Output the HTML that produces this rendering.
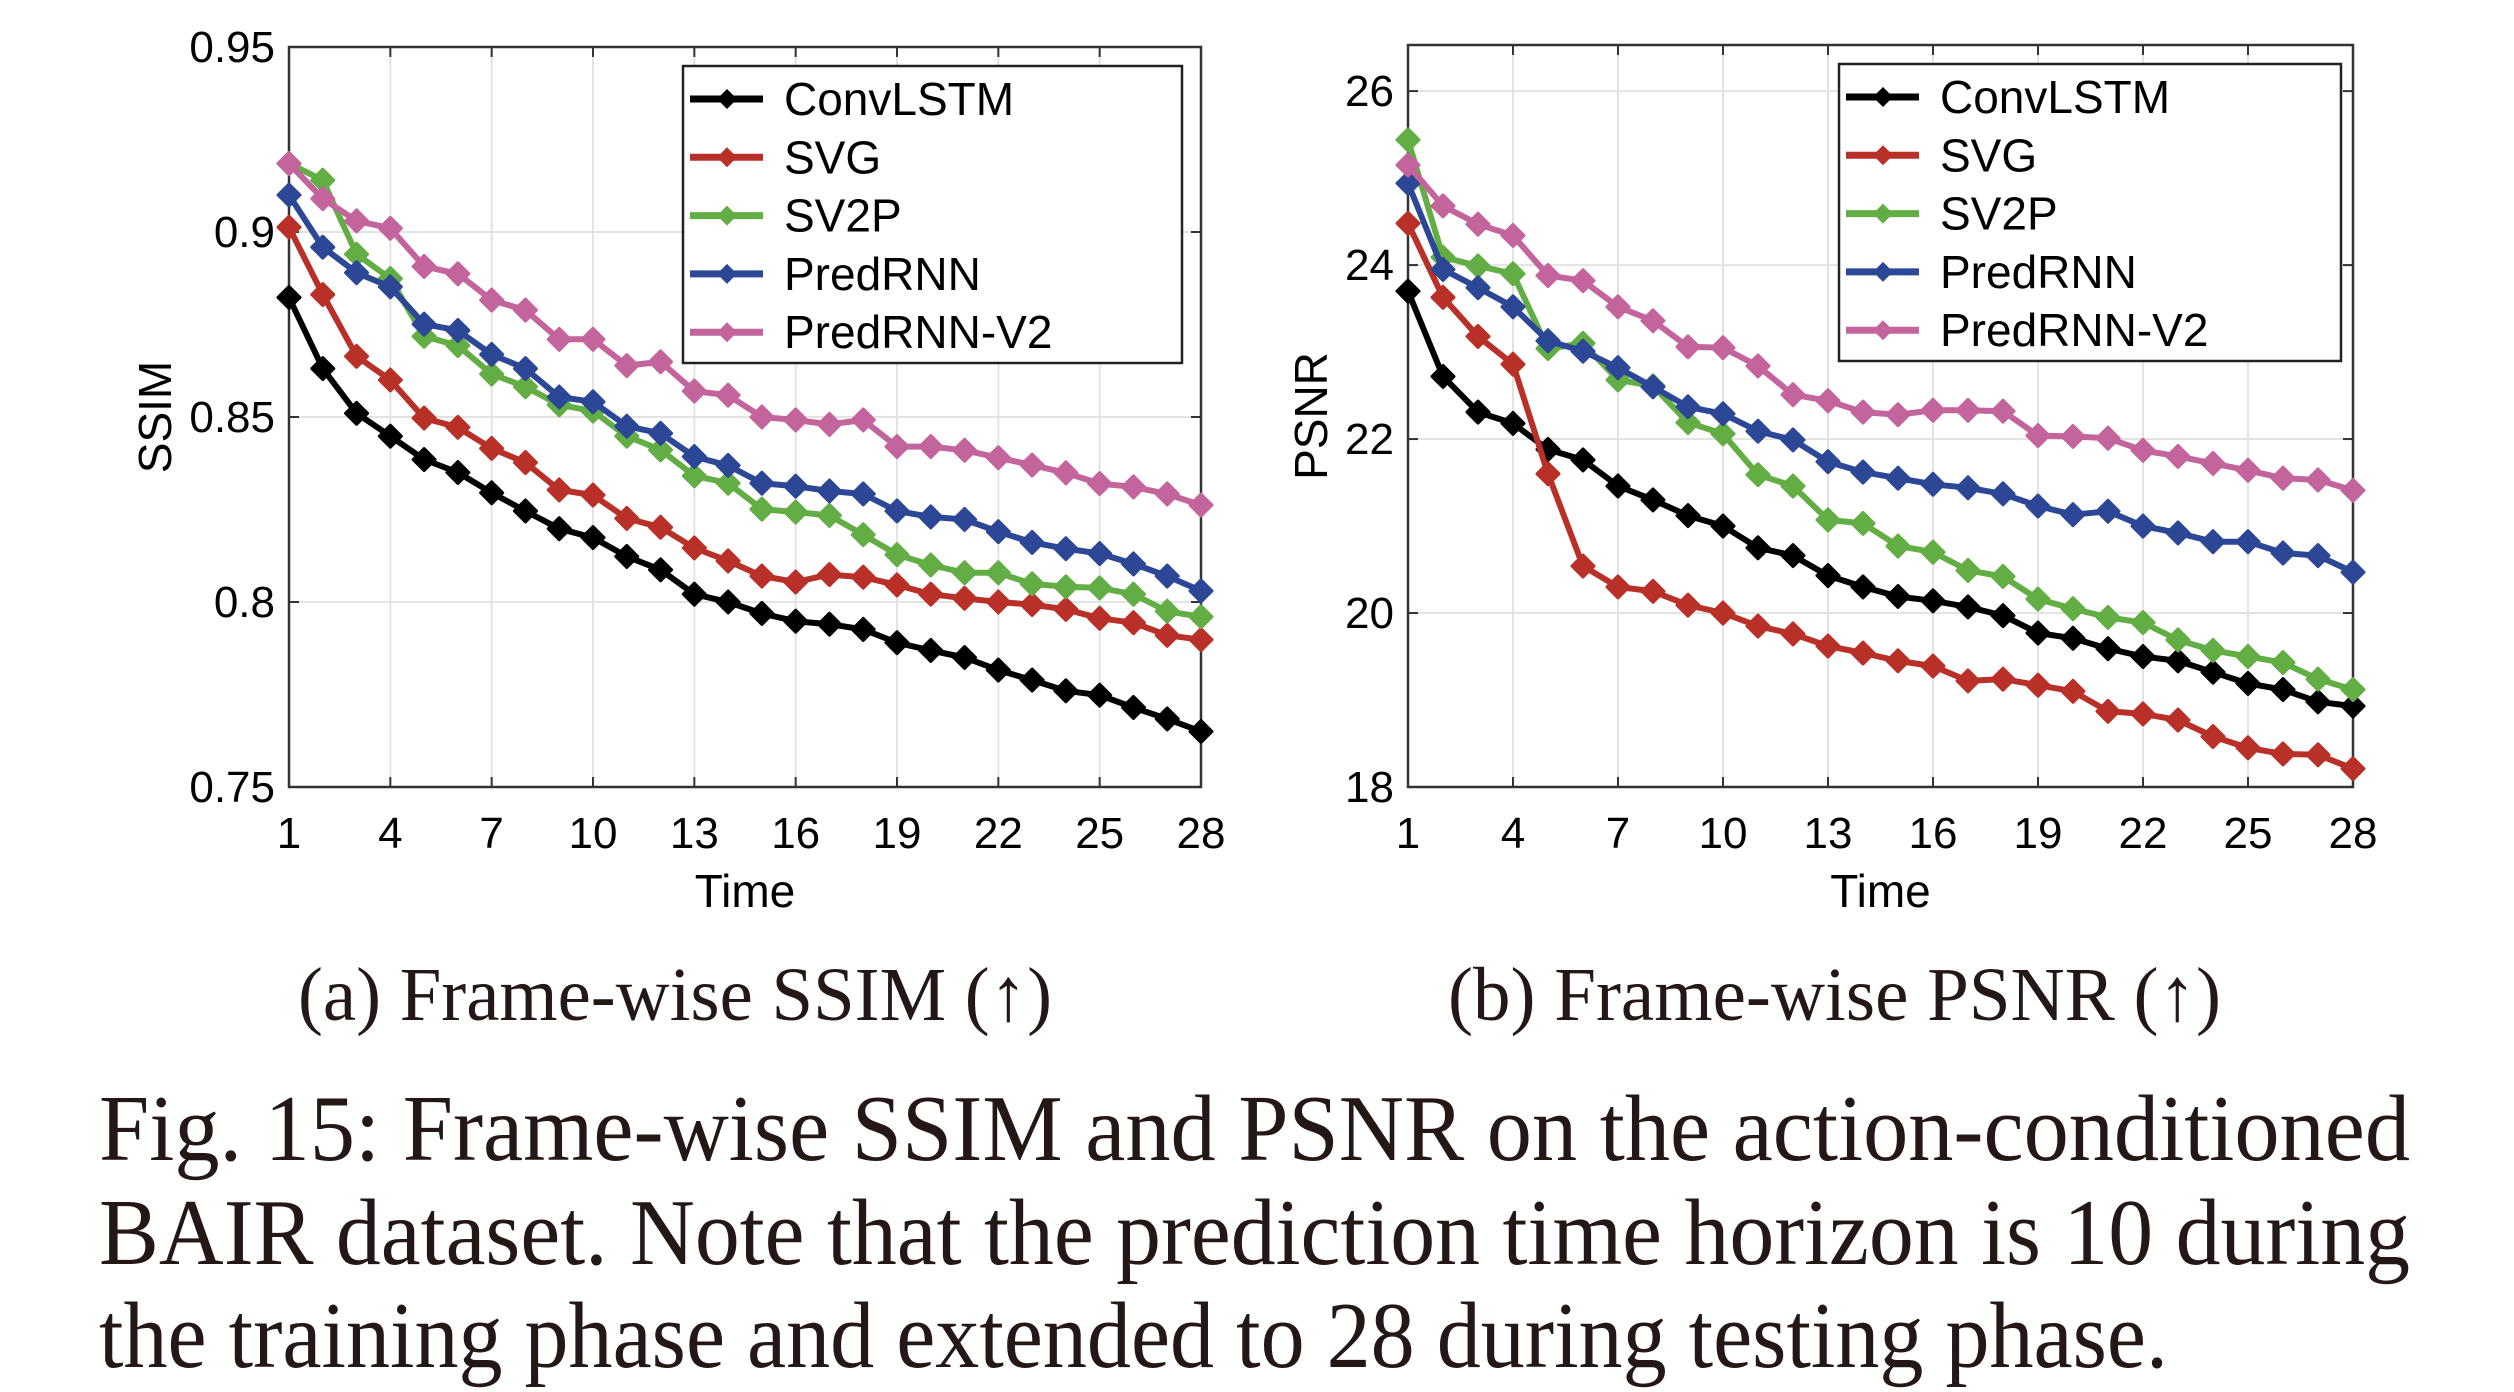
<!DOCTYPE html>
<html><head><meta charset="utf-8"><style>
html,body{margin:0;padding:0;background:#fff;}
svg{display:block;}
</style></head><body>
<svg id="fig" width="2514" height="1392" viewBox="0 0 2514 1392" xmlns="http://www.w3.org/2000/svg">
<g id="chartA"></g>
<g id="chartB"></g>
<text x="298" y="1020" textLength="754" lengthAdjust="spacingAndGlyphs" font-family="Liberation Serif, serif" font-size="76" fill="#231815">(a)  Frame-wise SSIM (↑)</text>
<text x="1448" y="1020" textLength="773" lengthAdjust="spacingAndGlyphs" font-family="Liberation Serif, serif" font-size="76" fill="#231815">(b)  Frame-wise PSNR (↑)</text>
<g font-family="Liberation Serif, serif" font-size="94" fill="#231815">
<text x="99" y="1160" textLength="2311" lengthAdjust="spacingAndGlyphs">Fig. 15: Frame-wise SSIM and PSNR on the action-conditioned</text>
<text x="99" y="1264" textLength="2311" lengthAdjust="spacingAndGlyphs">BAIR dataset. Note that the prediction time horizon is 10 during</text>
<text x="99" y="1367" textLength="2069" lengthAdjust="spacingAndGlyphs">the training phase and extended to 28 during testing phase.</text>
</g>
</svg>
<script>
const timeSteps = [1,2,3,4,5,6,7,8,9,10,11,12,13,14,15,16,17,18,19,20,21,22,23,24,25,26,27,28];
const xTickLabels = [1,4,7,10,13,16,19,22,25,28];
const seriesNames = ["ConvLSTM","SVG","SV2P","PredRNN","PredRNN-V2"];
const seriesColors = ["#000000","#b83028","#63ad45","#2b4795","#c4649d"];

const ssimConvLSTM = [0.8823,0.8631,0.851,0.8448,0.8385,0.835,0.8295,0.8246,0.8198,0.8174,0.8123,0.8087,0.8021,0.800,0.7969,0.7948,0.794,0.7926,0.789,0.7869,0.785,0.7816,0.7789,0.776,0.7748,0.7715,0.7684,0.765];
const ssimSVG = [0.9013,0.8831,0.8664,0.860,0.8497,0.8472,0.8415,0.8377,0.8303,0.8289,0.8226,0.8202,0.8146,0.8111,0.807,0.8054,0.8074,0.8067,0.8046,0.8021,0.801,0.800,0.7993,0.798,0.7956,0.7944,0.791,0.7898];
const ssimSV2P = [0.9185,0.914,0.894,0.8874,0.8718,0.8693,0.8616,0.8582,0.8533,0.8516,0.8448,0.8411,0.8341,0.8321,0.8251,0.8243,0.8234,0.8182,0.8128,0.810,0.8079,0.8079,0.8049,0.8041,0.8038,0.8021,0.7975,0.796];
const ssimPredRNN = [0.910,0.8959,0.889,0.8852,0.8751,0.8734,0.8669,0.8631,0.8554,0.8541,0.8475,0.8456,0.8393,0.8369,0.8321,0.8313,0.830,0.8292,0.8246,0.823,0.8223,0.819,0.8161,0.8144,0.8131,0.8103,0.807,0.803];
const ssimPredRNNV2 = [0.9185,0.909,0.903,0.901,0.8907,0.8887,0.8816,0.8789,0.871,0.871,0.8639,0.8649,0.857,0.8559,0.850,0.8492,0.848,0.8492,0.842,0.842,0.841,0.839,0.837,0.8349,0.832,0.8311,0.8292,0.8262];
const ssimTicks = [0.75,0.8,0.85,0.9,0.95];
const ssimTickLabels = ["0.75","0.8","0.85","0.9","0.95"];

const psnrConvLSTM = [23.70,22.72,22.31,22.18,21.88,21.76,21.46,21.30,21.12,21.0,20.75,20.66,20.43,20.30,20.19,20.14,20.07,19.97,19.77,19.71,19.59,19.50,19.45,19.32,19.19,19.12,18.98,18.93];
const psnrSVG = [24.48,23.63,23.18,22.86,21.60,20.54,20.30,20.25,20.09,20.0,19.85,19.76,19.62,19.54,19.45,19.39,19.22,19.24,19.17,19.10,18.87,18.84,18.77,18.58,18.45,18.38,18.37,18.21];
const psnrSV2P = [25.44,24.09,23.99,23.90,23.04,23.10,22.68,22.61,22.19,22.06,21.59,21.46,21.07,21.03,20.77,20.70,20.49,20.42,20.16,20.05,19.95,19.89,19.69,19.57,19.50,19.43,19.24,19.12];
const psnrPredRNN = [24.94,23.95,23.74,23.52,23.13,23.01,22.82,22.60,22.37,22.29,22.09,21.99,21.74,21.62,21.55,21.48,21.44,21.37,21.23,21.13,21.17,21.0,20.92,20.82,20.82,20.69,20.66,20.47];
const psnrPredRNNV2 = [25.15,24.68,24.47,24.34,23.88,23.82,23.52,23.36,23.06,23.05,22.84,22.51,22.44,22.31,22.28,22.33,22.33,22.32,22.04,22.03,22.01,21.87,21.80,21.72,21.64,21.55,21.53,21.41];
const psnrTicks = [18,20,22,24,26];
const psnrTickLabels = ["18","20","22","24","26"];

const NS = "http://www.w3.org/2000/svg";
function mk(parent, tag, attrs, text){
  const e = document.createElementNS(NS, tag);
  for (const k in attrs) e.setAttribute(k, attrs[k]);
  if (text !== undefined) e.textContent = text;
  parent.appendChild(e);
  return e;
}
const FONT = "Liberation Sans, sans-serif";

function drawChart(g, cfg){
  const L=cfg.left, R=cfg.right, T=cfg.top, B=cfg.bottom;
  const xs = t => L + (t - timeSteps[0]) / (timeSteps[timeSteps.length-1] - timeSteps[0]) * (R - L);
  const ys = v => B - (v - cfg.ymin) / (cfg.ymax - cfg.ymin) * (B - T);
  xTickLabels.forEach(t=>{
    const l = mk(g,"line",{x1:xs(t),x2:xs(t),y1:T,y2:B,stroke:"#e3e3e3","stroke-width":2});
    
    
  });
  cfg.ticks.forEach(v=>{
    const l = mk(g,"line",{x1:L,x2:R,y1:ys(v),y2:ys(v),stroke:"#e3e3e3","stroke-width":2});
    
    
  });
  xTickLabels.forEach(t=>{
    const a = mk(g,"line",{x1:xs(t),x2:xs(t),y1:B,y2:B-10,stroke:"#333","stroke-width":2});
    
    
    const b = mk(g,"line",{x1:xs(t),x2:xs(t),y1:T,y2:T+10,stroke:"#333","stroke-width":2});
    
    
    const tx = mk(g,"text",{x:xs(t),y:B+61,"text-anchor":"middle","font-family":FONT,"font-size":44,fill:"#000"}, String(t));
    
    
  });
  cfg.ticks.forEach((v,i)=>{
    const a = mk(g,"line",{x1:L,x2:L+10,y1:ys(v),y2:ys(v),stroke:"#333","stroke-width":2});
    
    
    const b = mk(g,"line",{x1:R,x2:R-10,y1:ys(v),y2:ys(v),stroke:"#333","stroke-width":2});
    
    
    const tx = mk(g,"text",{x:L-14,y:ys(v)+15,"text-anchor":"end","font-family":FONT,"font-size":44,fill:"#000"}, cfg.tickLabels[i]);
    
    
  });
  const box = mk(g,"rect",{x:L,y:T,width:R-L,height:B-T,fill:"none",stroke:"#333","stroke-width":2.5});
  
  
  cfg.series.forEach((vals,si)=>{
    const sg = mk(g,"g",{});
    
    
    const pts = vals.map((v,i)=>xs(timeSteps[i]).toFixed(1)+","+ys(v).toFixed(1)).join(" ");
    const pl = mk(sg,"polyline",{points:pts,fill:"none",stroke:seriesColors[si],"stroke-width":6,"stroke-linejoin":"round"});
    
    
    vals.forEach((v,i)=>{
      const x=xs(timeSteps[i]), y=ys(v), s=11;
      const m = mk(sg,"polygon",{points:`${x},${y-s} ${x+s},${y} ${x},${y+s} ${x-s},${y}`,fill:seriesColors[si],stroke:seriesColors[si],"stroke-width":3,"stroke-linejoin":"round"});
      
      
    });
  });
  const lg = mk(g,"g",{});
  
  
  const lb = mk(lg,"rect",{x:cfg.legX,y:cfg.legY,width:cfg.legW,height:297,fill:"#fff",stroke:"#222","stroke-width":2.5});
  
  
  seriesNames.forEach((n,si)=>{
    const ry = cfg.legY + 33 + si*58.3;
    const eg = mk(lg,"g",{});
    
    
    const x0 = cfg.legX+7, x1 = cfg.legX+80, xm = cfg.legX+44;
    const ln = mk(eg,"line",{x1:x0,x2:x1,y1:ry,y2:ry,stroke:seriesColors[si],"stroke-width":7});
    
    
    const s=10;
    const mm = mk(eg,"polygon",{points:`${xm},${ry-s} ${xm+s},${ry} ${xm},${ry+s} ${xm-s},${ry}`,fill:seriesColors[si]});
    
    
    const t = mk(eg,"text",{x:cfg.legX+101,y:ry+16,"font-family":FONT,"font-size":46,fill:"#000"}, n);
    
    
  });
  const xl = mk(g,"text",{x:(L+R)/2,y:B+120,"text-anchor":"middle","font-family":FONT,"font-size":46,fill:"#000"},"Time");
  
  
  const yl = mk(g,"text",{x:0,y:0,"text-anchor":"middle","font-family":FONT,"font-size":46,fill:"#000",transform:`translate(${cfg.ylabX},${(T+B)/2}) rotate(-90)`},cfg.ylabel);
  
  
}

drawChart(document.getElementById("chartA"),{
  left:289,right:1201,top:47,bottom:787,ymin:0.75,ymax:0.95,
  ticks:ssimTicks,tickLabels:ssimTickLabels,
  series:[ssimConvLSTM,ssimSVG,ssimSV2P,ssimPredRNN,ssimPredRNNV2],
  legX:683,legY:66,legW:499,ylabel:"SSIM",ylabX:171
});
drawChart(document.getElementById("chartB"),{
  left:1408,right:2353,top:45,bottom:787,ymin:18,ymax:26.53,
  ticks:psnrTicks,tickLabels:psnrTickLabels,
  series:[psnrConvLSTM,psnrSVG,psnrSV2P,psnrPredRNN,psnrPredRNNV2],
  legX:1839,legY:64,legW:502,ylabel:"PSNR",ylabX:1327
});
</script>
</body></html>
